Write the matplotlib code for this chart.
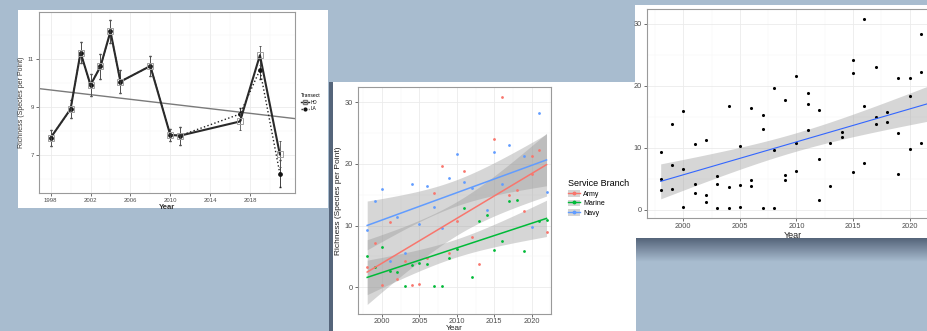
#!/usr/bin/env python3
"""Three richness-by-year chart screenshots laid over a blue-grey slide."""
import numpy as np
import matplotlib
matplotlib.use("Agg")
import matplotlib.pyplot as plt
from matplotlib.lines import Line2D
from matplotlib.patches import Patch

W, H = 928, 331

# Palette
BG = "#a8bccf"
SHADOW = "#55657a"
GRID = "#ebebeb"
BORDER = "#9a9a9a"
TICKTXT = "#4d4d4d"
ARMY = "#F8766D"
MARINE = "#00BA38"
NAVY = "#619CFF"
FIT = "#3366FF"
BAND = "#999999"

# Left chart: transect means with error bars
transect_year = [1998, 2000, 2001, 2002, 2003, 2004, 2005, 2008, 2010, 2011, 2017, 2019, 2021]
hd_rich = [7.70, 8.90, 11.25, 9.90, 10.67, 12.13, 10.04, 10.69, 7.82, 7.79, 8.38, 11.14, 7.01]
hd_err = [0.33, 0.38, 0.43, 0.47, 0.54, 0.49, 0.47, 0.43, 0.24, 0.38, 0.36, 0.39, 0.54]
la_rich = [7.70, 8.90, 11.25, 9.90, 10.67, 12.13, 10.04, 10.69, 7.82, 7.79, 8.69, 10.53, 6.21]
la_err = [0.33, 0.38, 0.43, 0.47, 0.54, 0.49, 0.47, 0.43, 0.24, 0.38, 0.25, 0.40, 0.55]
trend_year = [1996.8, 2022.5]
trend_rich = [9.75, 8.50]

# Middle / right charts: richness per point by service branch
army_year = [1998, 1999, 2000, 2001, 2002, 2003, 2004, 2005, 2006, 2007, 2008, 2009, 2010,
             2011, 2012, 2013, 2015, 2016, 2017, 2018, 2019, 2020, 2020, 2021, 2022]
army_rich = [3.2, 7.2, 0.4, 10.6, 1.3, 4.2, 0.3, 0.5, 4.8, 15.3, 19.6, 5.6, 10.7,
             18.8, 8.2, 3.8, 24.1, 30.8, 14.9, 15.8, 12.3, 21.3, 18.4, 22.3, 8.9]
marine_year = [1998, 1999, 2000, 2001, 2002, 2003, 2004, 2005, 2006, 2007, 2008, 2009,
               2010, 2011, 2012, 2013, 2014, 2015, 2016, 2017, 2018, 2019, 2021, 2022]
marine_rich = [5.0, 3.3, 6.5, 2.7, 2.4, 0.2, 3.6, 3.9, 3.8, 0.2, 0.2, 4.8,
               6.2, 12.9, 1.6, 10.8, 11.7, 6.0, 7.5, 13.9, 14.2, 5.8, 10.8, 10.9]
navy_year = [1998, 1999, 2000, 2001, 2002, 2003, 2004, 2005, 2006, 2007, 2008, 2009,
             2010, 2011, 2012, 2014, 2015, 2016, 2017, 2019, 2020, 2021, 2022]
navy_rich = [9.3, 13.9, 15.9, 4.2, 11.3, 5.5, 16.7, 10.2, 16.4, 13.0, 9.6, 17.7,
             21.6, 17.0, 16.1, 12.5, 22.0, 16.8, 23.1, 21.3, 9.8, 28.3, 15.4]
branches = ["Army", "Marine", "Navy"]


def box(x0, y0, x1, y1):
    """Pixel rectangle (top-left origin) -> figure fraction rect."""
    return [x0 / W, 1 - y1 / H, (x1 - x0) / W, (y1 - y0) / H]


def card(fig, x0, y0, x1, y1, z, color="white"):
    ax = fig.add_axes(box(x0, y0, x1, y1), zorder=z)
    ax.set_facecolor(color)
    ax.set_xticks([])
    ax.set_yticks([])
    for s in ax.spines.values():
        s.set_visible(False)
    return ax


def style_panel(ax, fs):
    ax.set_facecolor("white")
    ax.grid(True, which="major", color=GRID, lw=0.6, zorder=0)
    ax.grid(True, which="minor", color="#f5f5f5", lw=0.35, zorder=0)
    ax.set_axisbelow(True)
    for s in ax.spines.values():
        s.set_color(BORDER)
        s.set_linewidth(0.8)
    ax.tick_params(which="major", length=2, width=0.5, color="#333333",
                   labelsize=fs, labelcolor=TICKTXT, pad=1.5)
    ax.tick_params(which="minor", length=0)


def t975(df):
    z = 1.959964
    g1 = (z**3 + z) / 4
    g2 = (5 * z**5 + 16 * z**3 + 3 * z) / 96
    g3 = (3 * z**7 + 19 * z**5 + 17 * z**3 - 15 * z) / 384
    return z + g1 / df + g2 / df**2 + g3 / df**3


def lm_band(x, y, grid):
    x = np.asarray(x, float)
    y = np.asarray(y, float)
    n = len(x)
    b, a = np.polyfit(x, y, 1)
    fit = a + b * grid
    resid = y - (a + b * x)
    s = np.sqrt((resid**2).sum() / (n - 2))
    sxx = ((x - x.mean())**2).sum()
    se = s * np.sqrt(1 / n + (grid - x.mean())**2 / sxx)
    t = t975(n - 2)
    return fit, fit - t * se, fit + t * se


def left_panel(fig):
    card(fig, 18, 10, 328, 208, 1)
    ax = fig.add_axes(box(39, 12, 295, 193), zorder=1.5)
    style_panel(ax, 4.3)
    ax.set_xlim(1996.83, 2022.52)
    ax.set_ylim(5.40, 12.94)
    ax.set_xticks([1998, 2002, 2006, 2010, 2014, 2018])
    ax.set_xticks([2000, 2004, 2008, 2012, 2016, 2020], minor=True)
    ax.set_yticks([7, 9, 11])
    ax.set_yticks([6, 8, 10, 12], minor=True)

    ax.plot(trend_year, trend_rich, color="#7a7a7a", lw=1.0, zorder=2)
    ax.errorbar(transect_year, la_rich, yerr=la_err, color="#222222", ls=":",
                lw=1.0, marker="o", ms=2.4, mfc="#111111", mec="#111111",
                elinewidth=0.6, capsize=1.0, zorder=3)
    ax.errorbar(transect_year, hd_rich, yerr=hd_err, color="#2a2a2a", ls="-",
                lw=1.5, marker="s", ms=3.8, mfc="none", mec="#a0a0a0", mew=0.7,
                ecolor="#555555", elinewidth=0.6, capsize=1.0, zorder=4)

    ax.set_xlabel("Year", fontsize=5.5, fontweight="bold", labelpad=0.5, color="#333333")
    ax.set_ylabel("Richness (Species per Point)", fontsize=5.0, labelpad=2, color="#333333")

    handles = [Line2D([], [], color="#2a2a2a", lw=1.0, marker="s", ms=2.4, mfc="none",
                      mec="#777777"),
               Line2D([], [], color="#2a2a2a", lw=1.0, ls=":", marker="o", ms=2.0,
                      mfc="#111111", mec="#111111")]
    leg = fig.legend(handles, ["HD", "LA"], title="Transect", loc="upper left",
                     bbox_to_anchor=(299 / W, 1 - 91 / H), frameon=False,
                     fontsize=3.3, title_fontsize=3.6, handlelength=1.6,
                     handletextpad=0.4, labelspacing=0.35, borderpad=0)
    leg._legend_box.align = "left"
    leg.set_zorder(1.6)


def middle_panel(fig):
    card(fig, 331, 82, 636, 331, 2)
    card(fig, 329, 82, 333, 331, 2.1, color=SHADOW)
    ax = fig.add_axes(box(358, 87, 551, 314), zorder=2.5)
    style_panel(ax, 5.3)
    ax.tick_params(axis="x", pad=1.0)
    ax.set_xlim(1996.77, 2022.6)
    ax.set_ylim(-4.35, 32.46)
    ax.set_xticks([2000, 2005, 2010, 2015, 2020])
    ax.set_xticks([1997.5, 2002.5, 2007.5, 2012.5, 2017.5, 2022.5], minor=True)
    ax.set_yticks([0, 10, 20, 30])
    ax.set_yticks([5, 15, 25], minor=True)

    groups = [(army_year, army_rich, ARMY), (marine_year, marine_rich, MARINE),
              (navy_year, navy_rich, NAVY)]
    for yrs, vals, col in groups:
        ax.scatter(yrs, vals, s=4, color=col, lw=0, zorder=3)
    for yrs, vals, col in groups:
        grid = np.linspace(min(yrs), max(yrs), 80)
        fit, lo, hi = lm_band(yrs, vals, grid)
        ax.fill_between(grid, lo, hi, color=BAND, alpha=0.4, lw=0, zorder=2)
        ax.plot(grid, fit, color=col, lw=1.1, zorder=4)

    ax.set_xlabel("Year", fontsize=6.0, labelpad=0, color="#222222")
    ax.set_ylabel("Richness (Species per Point)", fontsize=6.0, labelpad=2, color="#222222")

    handles = [(Patch(fc="#d4d4d4", ec="none"),
                Line2D([], [], color=c, lw=1.0, marker="o", ms=1.8))
               for c in (ARMY, MARINE, NAVY)]
    leg = fig.legend(handles, branches, title="Service Branch", loc="upper left",
                     bbox_to_anchor=(565 / W, 1 - 176 / H), frameon=False,
                     fontsize=5.0, title_fontsize=6.5, handlelength=1.7,
                     handleheight=1.1, handletextpad=0.4, labelspacing=0.25,
                     borderpad=0)
    leg._legend_box.align = "left"
    leg.set_zorder(2.6)


def right_panel(fig):
    card(fig, 635, 5, 940, 238, 3)
    shade = fig.add_axes(box(636, 238, 940, 262), zorder=2.9)
    shade.imshow(np.linspace(0, 1, 40).reshape(-1, 1), aspect="auto",
                 cmap=matplotlib.colors.LinearSegmentedColormap.from_list(
                     "sh", [SHADOW, "#7f90a5", BG]), extent=(0, 1, 0, 1))
    shade.axis("off")

    ax = fig.add_axes(box(647, 9, 939, 218), zorder=3.5)
    style_panel(ax, 5.3)
    ax.set_xlim(1996.79, 2022.6)
    ax.set_ylim(-1.35, 32.4)
    ax.set_xticks([2000, 2005, 2010, 2015, 2020])
    ax.set_xticks([1997.5, 2002.5, 2007.5, 2012.5, 2017.5, 2022.5], minor=True)
    ax.set_yticks([0, 10, 20, 30])
    ax.set_yticks([5, 15, 25], minor=True)

    yrs = army_year + marine_year + navy_year
    vals = army_rich + marine_rich + navy_rich
    grid = np.linspace(min(yrs), max(yrs), 80)
    fit, lo, hi = lm_band(yrs, vals, grid)
    ax.fill_between(grid, lo, hi, color=BAND, alpha=0.4, lw=0, zorder=2)
    ax.plot(grid, fit, color=FIT, lw=0.8, zorder=4)
    ax.scatter(yrs, vals, s=5, color="black", lw=0, zorder=3)
    ax.set_xlabel("Year", fontsize=6.5, labelpad=0.5, color="#222222")


def main():
    plt.rcParams.update({
        "font.family": ["Liberation Sans", "DejaVu Sans"],
        "font.size": 6,
    })
    fig = plt.figure(figsize=(W / 100, H / 100), dpi=100, facecolor=BG)
    left_panel(fig)
    middle_panel(fig)
    right_panel(fig)
    fig.savefig("out.png", dpi=100, facecolor=BG)
    plt.close(fig)


if __name__ == "__main__":
    main()
